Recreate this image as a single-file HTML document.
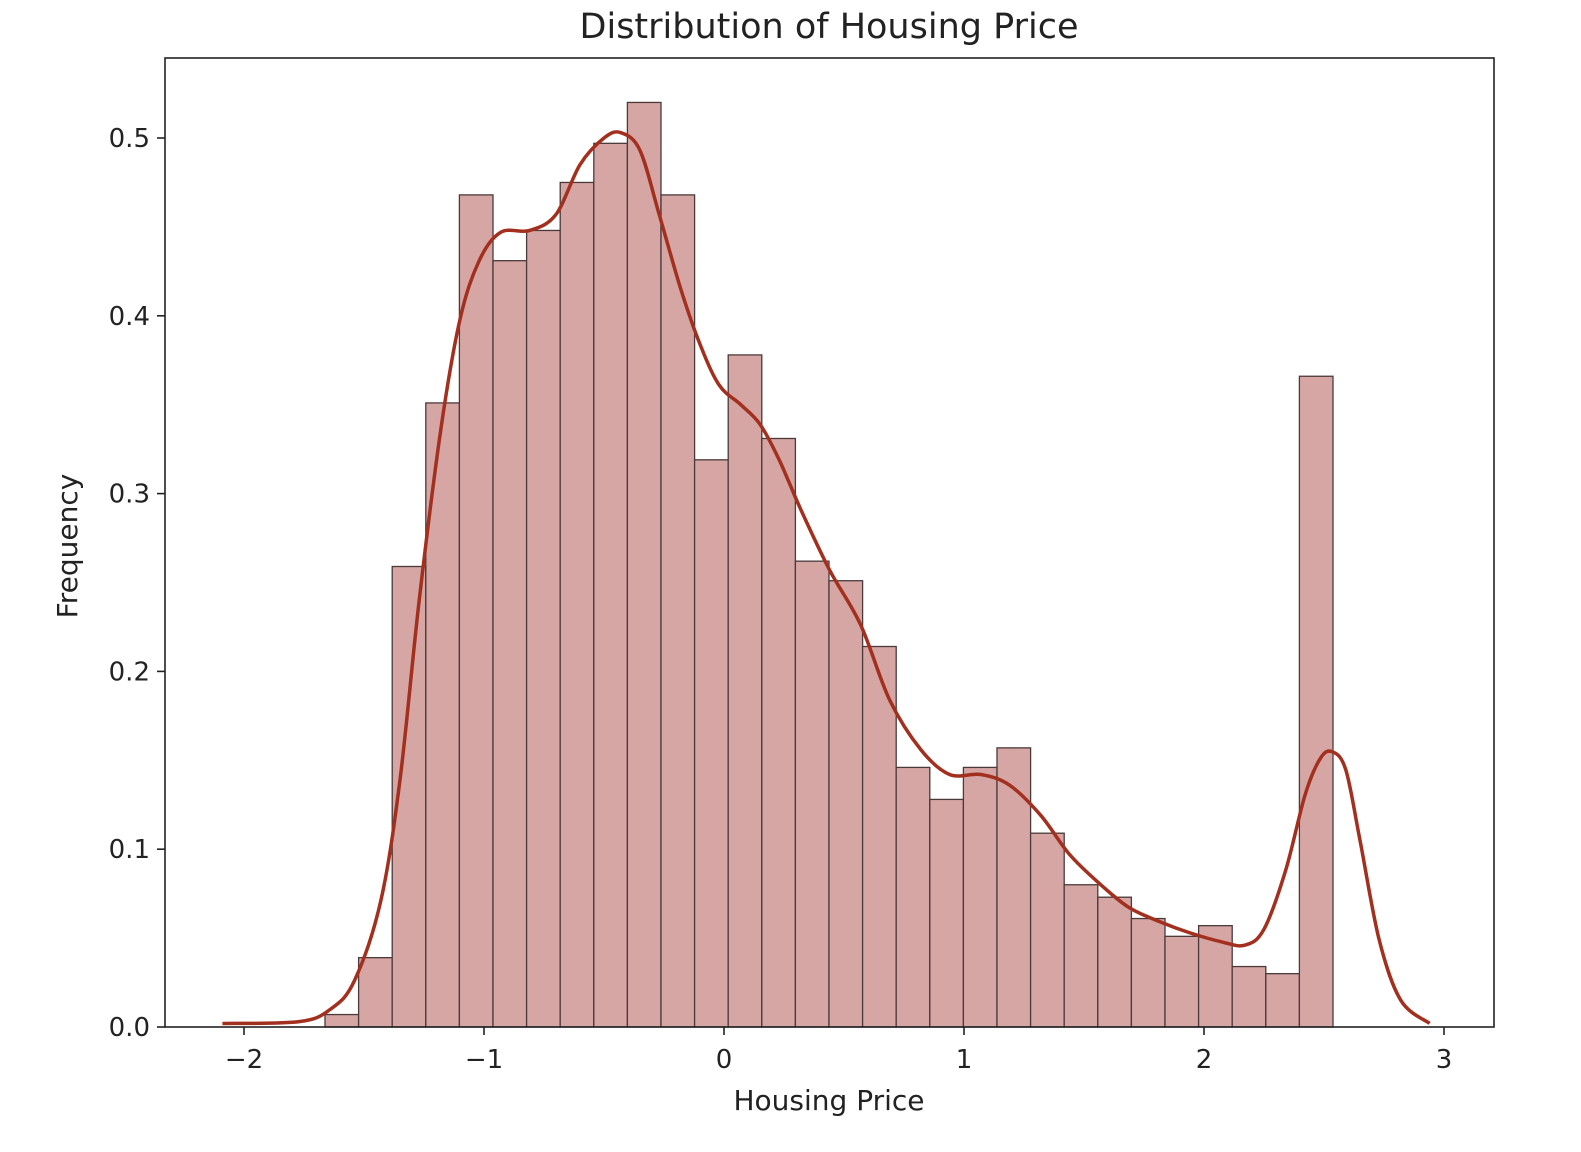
<!DOCTYPE html>
<html><head><meta charset="utf-8"><style>
body{margin:0;background:#fff;}
svg{display:block;font-family:"DejaVu Sans","Liberation Sans",sans-serif;}
</style></head><body>
<svg id="chart" width="1581" height="1152" viewBox="0 0 1581 1152" xmlns="http://www.w3.org/2000/svg">
<text x="829" y="38" font-size="35" text-anchor="middle" fill="#222">Distribution of Housing Price</text>
<g id="bars"></g>
<g id="kde"></g>
<rect x="165" y="58" width="1329" height="969" fill="none" stroke="#222" stroke-width="1.6"/>
<g id="xticks"></g>
<g id="yticks"></g>
<text x="829" y="1110" font-size="28" text-anchor="middle" fill="#222">Housing Price</text>
<text transform="translate(77,546) rotate(-90)" font-size="28" text-anchor="middle" fill="#222">Frequency</text>
</svg>
<script>
const binStart = -1.6625;
const binWidth = 0.14;
const barValues = [0.007,0.039,0.259,0.351,0.468,0.431,0.448,0.475,0.497,0.520,0.468,0.319,0.378,0.331,0.262,0.251,0.214,0.146,0.128,0.146,0.157,0.109,0.080,0.073,0.061,0.051,0.057,0.034,0.030,0.366];
const kdeX = [-2.09,-1.77,-1.64,-1.54,-1.43,-1.35,-1.27,-1.18,-1.10,-1.02,-0.93,-0.81,-0.70,-0.60,-0.50,-0.43,-0.35,-0.27,-0.18,-0.10,-0.02,0.07,0.15,0.23,0.32,0.44,0.57,0.69,0.82,0.94,1.07,1.19,1.32,1.44,1.57,1.69,1.82,1.94,2.07,2.17,2.25,2.34,2.42,2.48,2.53,2.59,2.65,2.73,2.82,2.94];
const kdeY = [0.002,0.003,0.010,0.026,0.071,0.139,0.240,0.336,0.398,0.431,0.447,0.448,0.457,0.485,0.500,0.503,0.493,0.457,0.415,0.384,0.361,0.350,0.339,0.319,0.291,0.257,0.226,0.184,0.156,0.142,0.142,0.136,0.119,0.097,0.080,0.067,0.059,0.053,0.048,0.046,0.055,0.088,0.130,0.150,0.155,0.145,0.105,0.049,0.015,0.002];
const xTicks = [-2,-1,0,1,2,3];
const xTickLabels = ["\u22122","\u22121","0","1","2","3"];
const yTicks = [0,0.1,0.2,0.3,0.4,0.5];
const yTickLabels = ["0.0","0.1","0.2","0.3","0.4","0.5"];

const NS="http://www.w3.org/2000/svg";
const xs = v => 724 + v*240;
const ys = v => 1027 - v*1778;
function mk(tag, attrs, parent){const e=document.createElementNS(NS,tag);for(const k in attrs)e.setAttribute(k,attrs[k]);parent.appendChild(e);return e;}

const bars=document.getElementById('bars');
barValues.forEach((v,i)=>{
  const x0=xs(binStart+i*binWidth), x1=xs(binStart+(i+1)*binWidth);
  const r=mk('rect',{x:x0,y:ys(v),width:x1-x0,height:ys(0)-ys(v),fill:"#d6a6a4",stroke:"#4a3a3a","stroke-width":1.3},bars);
  
  
});

const kde=document.getElementById('kde');
const pts=kdeX.map((x,i)=>[xs(x),ys(kdeY[i])]);
let d="M"+pts[0][0]+","+pts[0][1];
for(let i=0;i<pts.length-1;i++){
  const p0=pts[Math.max(0,i-1)],p1=pts[i],p2=pts[i+1],p3=pts[Math.min(pts.length-1,i+2)];
  const c1=[p1[0]+(p2[0]-p0[0])/6,p1[1]+(p2[1]-p0[1])/6];
  const c2=[p2[0]-(p3[0]-p1[0])/6,p2[1]-(p3[1]-p1[1])/6];
  d+=" C"+c1+" "+c2+" "+p2;
}
const line=mk('path',{d:d,fill:"none",stroke:"#a3301f","stroke-width":3.5,"stroke-linejoin":"round"},kde);



const xt=document.getElementById('xticks');
xTicks.forEach((t,i)=>{
  const l=mk('line',{x1:xs(t),x2:xs(t),y1:1027,y2:1035,stroke:"#222","stroke-width":1.6},xt);
  
  
  const tx=mk('text',{x:xs(t),y:1068,"font-size":26,"text-anchor":"middle",fill:"#222"},xt);
  tx.textContent=xTickLabels[i];
  
  
});
const yt=document.getElementById('yticks');
yTicks.forEach((t,i)=>{
  const l=mk('line',{x1:157,x2:165,y1:ys(t),y2:ys(t),stroke:"#222","stroke-width":1.6},yt);
  
  
  const tx=mk('text',{x:150,y:ys(t)+9,"font-size":26,"text-anchor":"end",fill:"#222"},yt);
  tx.textContent=yTickLabels[i];
  
  
});
</script>
</body></html>
